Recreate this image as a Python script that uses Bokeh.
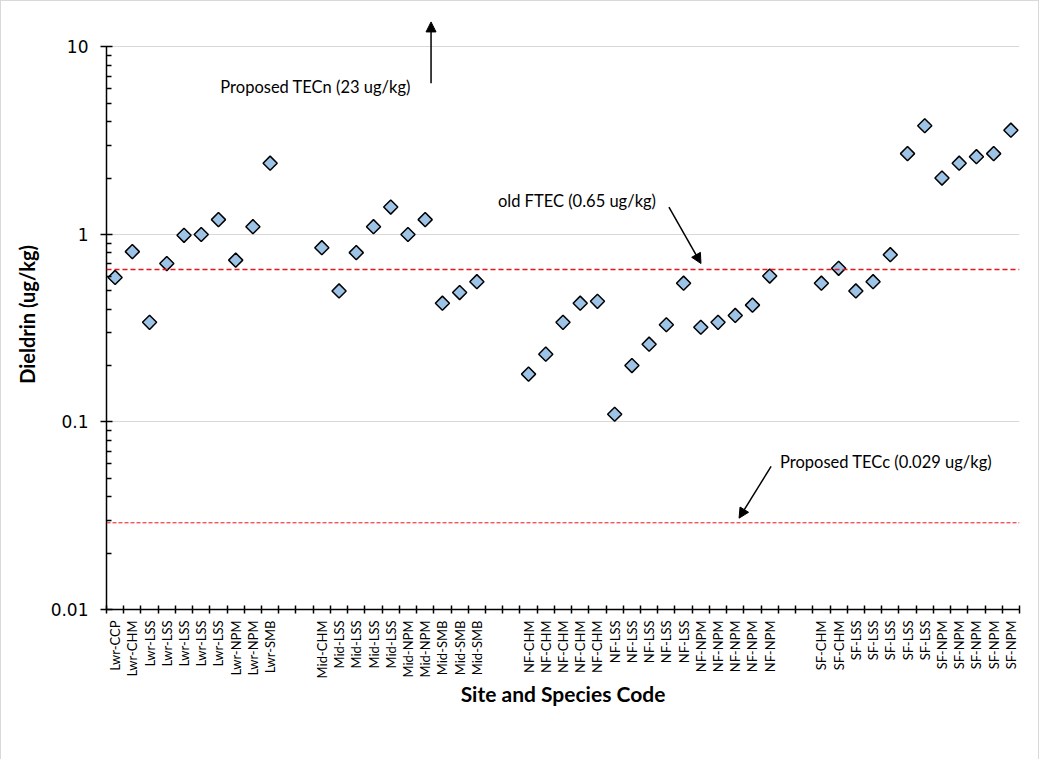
import math
from bokeh.plotting import figure
from bokeh.models import (FixedTicker, Span, Arrow, NormalHead, Label, Range1d, ColumnDataSource)
from bokeh.embed import file_html
from bokeh.resources import INLINE

# ---- data ----
lwr_codes = ["Lwr-CCP", "Lwr-CHM", "Lwr-LSS", "Lwr-LSS", "Lwr-LSS", "Lwr-LSS", "Lwr-LSS",
             "Lwr-NPM", "Lwr-NPM", "Lwr-SMB"]
lwr_vals = [0.59, 0.81, 0.34, 0.70, 0.99, 1.00, 1.20, 0.73, 1.10, 2.40]

mid_codes = ["Mid-CHM", "Mid-LSS", "Mid-LSS", "Mid-LSS", "Mid-LSS", "Mid-NPM", "Mid-NPM",
             "Mid-SMB", "Mid-SMB", "Mid-SMB"]
mid_vals = [0.85, 0.50, 0.80, 1.10, 1.40, 1.00, 1.20, 0.43, 0.49, 0.56]

nf_codes = ["NF-CHM"] * 5 + ["NF-LSS"] * 5 + ["NF-NPM"] * 5
nf_vals = [0.18, 0.23, 0.34, 0.43, 0.44, 0.11, 0.20, 0.26, 0.33, 0.55, 0.32, 0.34, 0.37, 0.42, 0.60]

sf_codes = ["SF-CHM"] * 2 + ["SF-LSS"] * 5 + ["SF-NPM"] * 5
sf_vals = [0.55, 0.66, 0.50, 0.56, 0.78, 2.70, 3.80, 2.00, 2.40, 2.60, 2.70, 3.60]

groups = [(lwr_codes, lwr_vals), (mid_codes, mid_vals), (nf_codes, nf_vals), (sf_codes, sf_vals)]
gap = 2  # empty category slots between site groups

old_ftec = 0.65
tecc = 0.029
y_ticks = [0.01, 0.1, 1, 10]

# ---- build positions ----
xs, ys, codes = [], [], []
pos = 0
for gi, (c, v) in enumerate(groups):
    for code, val in zip(c, v):
        xs.append(pos)
        ys.append(val)
        codes.append(code)
        pos += 1
    if gi < len(groups) - 1:
        pos += gap
n_slots = pos

FONT = "Lato"

p = figure(width=1039, height=759, y_axis_type="log",
           x_range=Range1d(-0.5, n_slots - 0.5), y_range=Range1d(0.01, 14.9),
           output_backend="svg", toolbar_location=None,
           min_border_left=105, min_border_right=21, min_border_top=13, min_border_bottom=151)
p.styles = {"border-left": "1px solid #d9d9d9", "border-top": "1px solid #d9d9d9",
            "border-right": "1px solid #d9d9d9"}
p.outline_line_color = None
p.background_fill_color = "white"
p.border_fill_color = "white"

# grid
p.xgrid.grid_line_color = None
p.ygrid.grid_line_color = "#d9d9d9"
p.ygrid.grid_line_width = 1
p.ygrid.minor_grid_line_color = None

# x axis
xa = p.xaxis[0]
xa.ticker = FixedTicker(ticks=xs, minor_ticks=[i - 0.5 for i in range(n_slots + 1)])
xa.major_label_overrides = {x: c for x, c in zip(xs, codes)}
xa.major_label_orientation = math.pi / 2
xa.major_tick_in = 0
xa.major_tick_out = 0
xa.minor_tick_in = 4
xa.minor_tick_out = 4
xa.minor_tick_line_color = "black"
xa.minor_tick_line_width = 1.5
xa.axis_line_color = "black"
xa.axis_line_width = 1.5
xa.major_label_text_font = FONT
xa.major_label_text_font_size = "13px"
xa.major_label_text_color = "black"
xa.major_label_standoff = 7
xa.axis_label = "Site and Species Code"
xa.axis_label_text_font = FONT
xa.axis_label_text_font_style = "bold"
xa.axis_label_text_font_size = "21px"
xa.axis_label_text_color = "black"
xa.axis_label_standoff = 0

# y axis
ya = p.yaxis[0]
ya.ticker = FixedTicker(ticks=y_ticks,
                        minor_ticks=[m * d for d in [0.01, 0.1, 1] for m in range(2, 10)])
ya.major_label_overrides = {0.01: "0.01", 0.1: "0.1", 1: "1", 10: "10"}
ya.bounds = (0.01, 10)
ya.axis_line_color = "black"
ya.axis_line_width = 1.5
ya.major_tick_in = 6
ya.major_tick_out = 6
ya.major_tick_line_width = 1.5
ya.minor_tick_in = 5
ya.minor_tick_out = 0
ya.minor_tick_line_width = 1.5
ya.major_label_text_font = "DejaVu Sans"
ya.major_label_text_font_size = "17px"
ya.major_label_text_color = "black"
ya.major_label_standoff = 12
ya.axis_label = "Dieldrin  (ug/kg)"
ya.axis_label_text_font = FONT
ya.axis_label_text_font_style = "bold"
ya.axis_label_text_font_size = "20px"
ya.axis_label_text_color = "black"
ya.axis_label_standoff = 9

# reference lines
p.add_layout(Span(location=old_ftec, dimension="width", line_color="#e8141a",
                  line_width=1.5, line_dash="5 3"))
p.add_layout(Span(location=tecc, dimension="width", line_color="#e8141a",
                  line_width=1, line_dash="4 2"))

# points
src = ColumnDataSource(dict(x=xs, y=ys))
p.scatter("x", "y", source=src, marker="square", angle=math.pi / 4, size=10,
          fill_color="#9dc3e6", line_color="black", line_width=1.5)

# annotations
def head():
    return NormalHead(size=10, fill_color="black", line_color="black")

p.add_layout(Arrow(end=head(), x_start=18.34, y_start=6.4, x_end=18.34, y_end=13.6,
                   line_color="black", line_width=1.5))
p.add_layout(Arrow(end=head(), x_start=32.15, y_start=1.40, x_end=34.01, y_end=0.70,
                   line_color="black", line_width=1.5))
p.add_layout(Arrow(end=head(), x_start=38.08, y_start=0.058, x_end=36.22, y_end=0.0307,
                   line_color="black", line_width=1.5))

for x, y, t in [(6.11, 6.15, "Proposed TECn (23 ug/kg)"),
                (22.22, 1.51, "old FTEC (0.65 ug/kg)"),
                (38.6, 0.0609, "Proposed TECc (0.029 ug/kg)")]:
    p.add_layout(Label(x=x, y=y, text=t, text_align="left", text_baseline="middle",
                       text_font=FONT, text_font_size="16.5px", text_color="black"))

open("out.html", "w").write(file_html(p, INLINE))
